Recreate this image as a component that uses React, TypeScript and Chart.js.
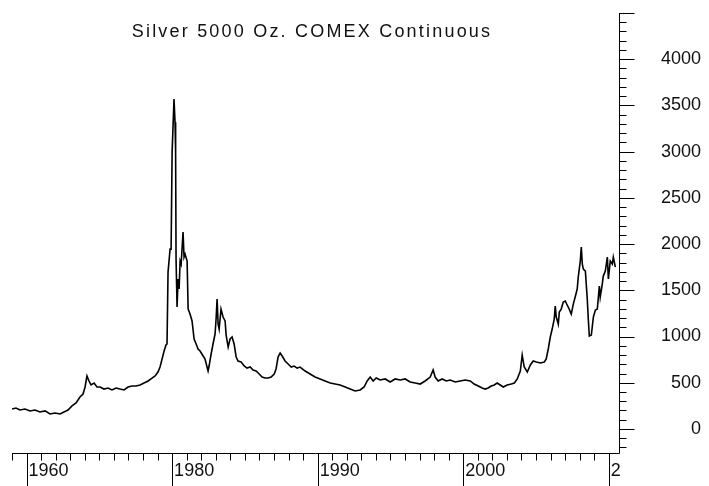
import React, { useEffect, useRef } from 'react';
import { Chart, registerables } from 'chart.js';

Chart.register(...registerables);

const TITLE = 'Silver 5000 Oz. COMEX Continuous';

// decimal year of each observation
const years = [
  1969.0, 1969.27, 1969.55, 1969.89, 1970.24, 1970.58, 1970.92, 1971.27, 1971.61, 1971.96,
  1972.3, 1972.57, 1972.85, 1973.12, 1973.4, 1973.67, 1973.88, 1974.02, 1974.15, 1974.29,
  1974.43, 1974.64, 1974.84, 1975.05, 1975.32, 1975.6, 1975.87, 1976.15, 1976.42, 1976.7,
  1976.97, 1977.25, 1977.52, 1977.8, 1978.07, 1978.35, 1978.62, 1978.83, 1979.03, 1979.17,
  1979.31, 1979.45, 1979.58, 1979.65, 1979.72, 1979.86, 1979.93, 1980.0, 1980.13, 1980.2,
  1980.24, 1980.27, 1980.34, 1980.41, 1980.48, 1980.55, 1980.62, 1980.75, 1980.82, 1980.89,
  1981.03, 1981.1, 1981.23, 1981.37, 1981.51, 1981.65, 1981.78, 1981.92, 1982.13, 1982.26,
  1982.4, 1982.47, 1982.54, 1982.68, 1982.81, 1982.95, 1983.02, 1983.09, 1983.16, 1983.23,
  1983.36, 1983.5, 1983.64, 1983.71, 1983.85, 1983.98, 1984.12, 1984.26, 1984.4, 1984.53,
  1984.74, 1984.95, 1985.15, 1985.36, 1985.56, 1985.77, 1985.98, 1986.18, 1986.39, 1986.59,
  1986.8, 1987.01, 1987.14, 1987.28, 1987.42, 1987.56, 1987.76, 1987.97, 1988.18, 1988.38,
  1988.59, 1988.79, 1989.14, 1989.48, 1989.82, 1990.17, 1990.51, 1990.86, 1991.2, 1991.54,
  1991.89, 1992.23, 1992.57, 1992.92, 1993.19, 1993.4, 1993.61, 1993.81, 1994.02, 1994.29,
  1994.64, 1994.98, 1995.32, 1995.67, 1996.01, 1996.35, 1996.7, 1997.04, 1997.38, 1997.73,
  1997.93, 1998.07, 1998.28, 1998.55, 1998.83, 1999.1, 1999.45, 1999.79, 2000.13, 2000.48,
  2000.75, 2001.03, 2001.3, 2001.51, 2001.71, 2001.92, 2002.13, 2002.33, 2002.54, 2002.75,
  2003.02, 2003.3, 2003.51, 2003.71, 2003.92, 2004.05, 2004.19, 2004.4, 2004.61, 2004.81,
  2005.02, 2005.3, 2005.57, 2005.7, 2005.84, 2005.98, 2006.11, 2006.25, 2006.32, 2006.39,
  2006.53, 2006.6, 2006.73, 2006.87, 2007.01, 2007.14, 2007.28, 2007.42, 2007.56, 2007.69,
  2007.83, 2007.9, 2008.04, 2008.11, 2008.18, 2008.25, 2008.39, 2008.52, 2008.59, 2008.66,
  2008.8, 2008.94, 2009.08, 2009.21, 2009.35, 2009.41, 2009.55, 2009.62, 2009.76, 2009.9,
  2009.97, 2010.1, 2010.24, 2010.31, 2010.45,
];

// price in cents per ounce
const prices = [
  216, 227, 205, 216, 195, 205, 184, 195, 162, 173,
  162, 184, 205, 249, 281, 346, 378, 454, 573, 519,
  476, 497, 454, 454, 432, 443, 422, 443, 432, 422,
  454, 465, 465, 476, 497, 519, 551, 573, 616, 670,
  757, 843, 908, 919, 1697, 1946, 1946, 2995, 3568, 3319,
  2995, 1838, 1319, 1622, 1514, 1816, 1784, 2130, 1859, 1892,
  1816, 1297, 1243, 1168, 973, 919, 865, 843, 789, 757,
  670, 627, 681, 811, 919, 1027, 1189, 1405, 1135, 1081,
  1297, 1211, 1168, 1016, 886, 973, 995, 919, 778, 735,
  724, 681, 659, 670, 638, 627, 595, 562, 551, 551,
  562, 595, 649, 778, 822, 789, 735, 703, 670, 681,
  659, 670, 627, 595, 562, 541, 519, 497, 486, 476,
  454, 432, 411, 422, 454, 519, 562, 519, 551, 530,
  541, 508, 541, 530, 541, 508, 497, 486, 519, 562,
  638, 562, 519, 541, 519, 530, 508, 519, 530, 519,
  486, 465, 443, 432, 443, 465, 476, 497, 476, 454,
  476, 486, 497, 541, 627, 800, 670, 616, 692, 735,
  724, 714, 724, 757, 865, 995, 1081, 1189, 1330, 1211,
  1135, 1265, 1297, 1373, 1384, 1341, 1297, 1243, 1351, 1427,
  1514, 1643, 1816, 1968, 1784, 1730, 1708, 1405, 1189, 1005,
  1016, 1211, 1286, 1297, 1546, 1427, 1568, 1654, 1708, 1859,
  1622, 1816, 1784, 1859, 1751,
];

const xTickValues = [1970, 1980, 1990, 2000, 2010];
const xTickLabels = ['1960', '1980', '1990', '2000', '2'];
const yTickValues = [0, 500, 1000, 1500, 2000, 2500, 3000, 3500, 4000];

const X_MIN = 1969;
const X_MAX = 2010.7;
const Y_MIN = -260;
const Y_MAX = 4500;

const FONT_FAMILY = '"Liberation Sans", Arial, sans-serif';
const FONT_SIZE = 18;
const TEXT_COLOR = '#111';

const tickMarksPlugin = {
  id: 'tickMarks',
  afterDraw(chart: any) {
    const ctx = chart.ctx;
    const xs = chart.scales.x;
    const ys = chart.scales.y;
    const { left, right, top, bottom } = chart.chartArea;
    const bx = Math.round(right) + 0.5;
    const by = Math.round(bottom) + 0.5;
    ctx.save();
    ctx.strokeStyle = '#000';
    ctx.lineWidth = 1;
    ctx.beginPath();
    for (let yr = Math.ceil(X_MIN); yr <= Math.floor(X_MAX); yr++) {
      const px = Math.round(xs.getPixelForValue(yr)) + 0.5;
      const len = yr % 10 === 0 ? 33 : 7;
      ctx.moveTo(px, by);
      ctx.lineTo(px, by + len);
    }
    for (let v = Math.ceil(Y_MIN / 100) * 100; v <= Y_MAX; v += 100) {
      const py = Math.round(ys.getPixelForValue(v)) + 0.5;
      const len = v % 500 === 0 ? 15 : 7;
      ctx.moveTo(bx, py);
      ctx.lineTo(bx + len, py);
    }
    ctx.stroke();
    // axis lines
    ctx.beginPath();
    ctx.moveTo(Math.round(left), by);
    ctx.lineTo(bx, by);
    ctx.moveTo(bx, Math.round(top));
    ctx.lineTo(bx, by);
    ctx.stroke();
    // title
    ctx.fillStyle = TEXT_COLOR;
    ctx.font = `${FONT_SIZE}px ${FONT_FAMILY}`;
    (ctx as any).letterSpacing = '2.2px';
    ctx.textAlign = 'center';
    ctx.textBaseline = 'middle';
    ctx.fillText(TITLE, 312, 32);
    ctx.restore();
  },
};

export default function App() {
  const canvasRef = useRef<HTMLCanvasElement | null>(null);

  useEffect(() => {
    const canvas = canvasRef.current;
    if (!canvas) return;

    const points = years.map((x, i) => ({ x, y: prices[i] }));

    const chart = new Chart(canvas, {
      type: 'line',
      data: {
        datasets: [
          {
            data: points,
            borderColor: '#000',
            borderWidth: 1.6,
            pointRadius: 0,
            tension: 0,
            fill: false,
          },
        ],
      },
      options: {
        animation: false,
        responsive: false,
        devicePixelRatio: 1,
        events: [],
        layout: { padding: { left: 12, top: 13, right: 8, bottom: 0 } },
        plugins: {
          legend: { display: false },
          tooltip: { enabled: false },
          title: { display: false },
        },
        scales: {
          x: {
            type: 'linear',
            position: 'bottom',
            min: X_MIN,
            max: X_MAX,
            grid: { display: false, drawTicks: false },
            border: { display: false },
            afterBuildTicks: (scale: any) => {
              scale.ticks = xTickValues.map((v) => ({ value: v }));
            },
            afterFit: (scale: any) => {
              scale.height = 33;
              scale.paddingLeft = 0;
              scale.paddingRight = 0;
              scale.paddingTop = 0;
              scale.paddingBottom = 0;
            },
            ticks: {
              autoSkip: false,
              maxRotation: 0,
              minRotation: 0,
              align: 'start',
              labelOffset: 2,
              padding: 7,
              color: TEXT_COLOR,
              font: { family: FONT_FAMILY, size: FONT_SIZE },
              callback: (_v: any, i: number) => xTickLabels[i],
            },
          },
          y: {
            type: 'linear',
            position: 'right',
            min: Y_MIN,
            max: Y_MAX,
            grid: { display: false, drawTicks: false },
            border: { display: false },
            afterBuildTicks: (scale: any) => {
              scale.ticks = yTickValues.map((v) => ({ value: v }));
            },
            afterFit: (scale: any) => {
              scale.width = 82;
              scale.paddingLeft = 0;
              scale.paddingRight = 0;
              scale.paddingTop = 0;
              scale.paddingBottom = 0;
            },
            ticks: {
              autoSkip: false,
              crossAlign: 'far',
              padding: 20,
              color: TEXT_COLOR,
              font: { family: FONT_FAMILY, size: FONT_SIZE },
              callback: (v: any) => String(v),
            },
          },
        },
      },
      plugins: [tickMarksPlugin],
    });
    return () => chart.destroy();
  }, []);

  return (
    <div style={{ position: 'fixed', left: 0, top: 0, width: 709, height: 486, background: '#fff' }}>
      <canvas ref={canvasRef} width={709} height={486} style={{ display: 'block', width: 709, height: 486 }} />
    </div>
  );
}
